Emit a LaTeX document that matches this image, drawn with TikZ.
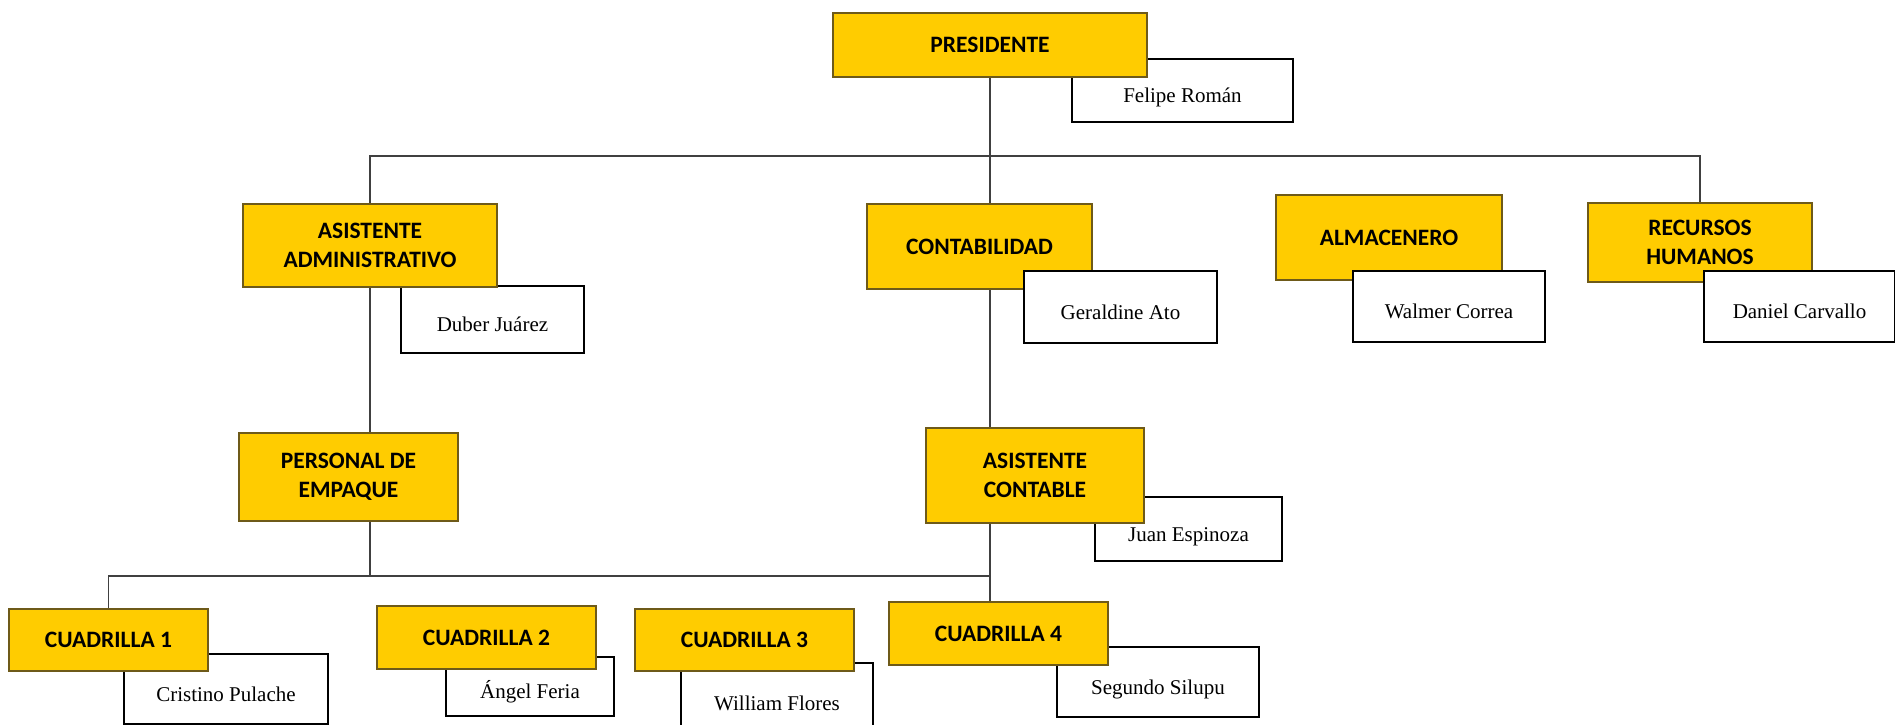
\documentclass[tikz,border=0pt]{standalone}
\usepackage{fontspec}
\setmainfont{Liberation Serif}
\newfontfamily\calibri{Carlito}
\usetikzlibrary{positioning,backgrounds}
\definecolor{cargo}{RGB}{255,204,0}
\definecolor{cargoline}{RGB}{110,90,25}
\definecolor{linea}{RGB}{64,64,64}

\begin{document}
\begin{tikzpicture}[x=1pt,y=-1pt,
  cbox/.style={rectangle,draw=cargoline,fill=cargo,line width=2pt,inner sep=0pt,
               align=center,font=\calibri\bfseries\fontsize{23.5}{28.5}\selectfont},
  nbox/.style={rectangle,draw=black,fill=white,line width=1.8pt,inner sep=0pt,
               text height=28pt,text depth=4pt,font=\fontsize{21}{25}\selectfont},
  link/.style={draw=linea,line width=1.5pt}]
\useasboundingbox (0,0) rectangle (1895,725);
\clip (0,0) rectangle (1895,725);
\coordinate (busa) at (0,156);
\coordinate (busb) at (0,576);
\node[nbox,minimum width=221pt,minimum height=63pt] (felipe)   at (1182.5,90.5) {Felipe Román};
\node[nbox,minimum width=183pt,minimum height=67pt] (duber)    at (492.5,319.5) {Duber Juárez};
\node[nbox,minimum width=187pt,minimum height=64pt] (juan)     at (1188.5,529)  {Juan Espinoza};
\node[nbox,minimum width=204pt,minimum height=70pt] (cristino) at (226,689)     {Cristino Pulache};
\node[nbox,minimum width=168pt,minimum height=59pt] (angel)    at (530,686.5)   {Ángel Feria};
\node[nbox,minimum width=192pt,minimum height=70pt] (william)  at (777,698)     {William Flores};
\node[nbox,minimum width=202pt,minimum height=70pt] (segundo)  at (1158,682)    {Segundo Silupu};
\node[cbox,minimum width=314pt,minimum height=64pt] (pres)   at (990,45)      {PRESIDENTE};
\node[cbox,minimum width=254pt,minimum height=83pt] (asadm)  at (370,245.5)   {ASISTENTE\\ADMINISTRATIVO};
\node[cbox,minimum width=225pt,minimum height=85pt] (conta)  at (979.5,246.5) {CONTABILIDAD};
\node[cbox,minimum width=226pt,minimum height=85pt] (almac)  at (1389,237.5)  {ALMACENERO};
\node[cbox,minimum width=224pt,minimum height=79pt] (rrhh)   at (1700,242.5)  {RECURSOS\\HUMANOS};
\node[cbox,minimum width=219pt,minimum height=88pt] (empaq)  at (348.5,477)   {PERSONAL DE\\EMPAQUE};
\node[cbox,minimum width=218pt,minimum height=95pt] (ascont) at (1035,475.5)  {ASISTENTE\\CONTABLE};
\node[cbox,minimum width=199pt,minimum height=62pt] (cuad1)  at (108.5,640)   {CUADRILLA 1};
\node[cbox,minimum width=219pt,minimum height=63pt] (cuad2)  at (486.5,637.5) {CUADRILLA 2};
\node[cbox,minimum width=219pt,minimum height=62pt] (cuad3)  at (744.5,640)   {CUADRILLA 3};
\node[cbox,minimum width=219pt,minimum height=63pt] (cuad4)  at (998.5,633.5) {CUADRILLA 4};
\node[nbox,minimum width=193pt,minimum height=72pt] (geral)  at (1120.5,307)   {Geraldine Ato};
\node[nbox,minimum width=192pt,minimum height=71pt] (walmer) at (1449,306.5)   {Walmer Correa};
\node[nbox,minimum width=191pt,minimum height=71pt] (daniel) at (1799.5,306.5) {Daniel Carvallo};
\begin{scope}[on background layer]
\draw[link] (pres.south) -- (pres.south |- cuad4.north);
\draw[link] (asadm.north) -- (asadm.north |- busa) -| (rrhh.north);
\draw[link] (asadm.south) -- (asadm.south |- busb);
\draw[link] (cuad1.north) -- (cuad1.north |- busb) -- (busb -| pres.south);
\end{scope}
\end{tikzpicture}
\end{document}
